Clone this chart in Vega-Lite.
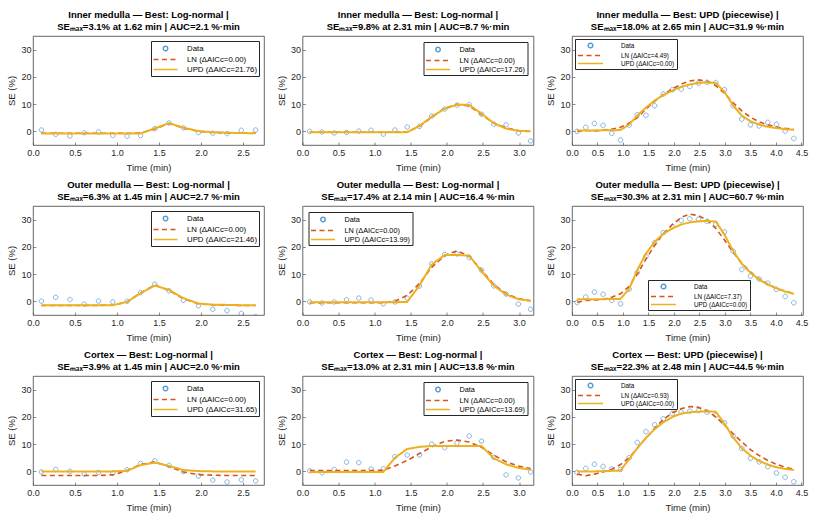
{
  "$schema": "https://vega.github.io/schema/vega-lite/v6.json",
  "padding": {"left": 6, "top": 9, "right": 2, "bottom": 2},
  "background": "white",
  "datasets": {
    "p1": [
      {"t":0.1,"Data":0.5,"LN":-0.7,"UPD":-0.8},
      {"t":0.27,"Data":-1.1,"LN":-0.7,"UPD":-0.8},
      {"t":0.44,"Data":-1.7,"LN":-0.7,"UPD":-0.8},
      {"t":0.61,"Data":-0.5,"LN":-0.7,"UPD":-0.8},
      {"t":0.78,"Data":-0.2,"LN":-0.7,"UPD":-0.8},
      {"t":0.95,"Data":-1.5,"LN":-0.7,"UPD":-0.8},
      {"t":1.12,"Data":-1.8,"LN":-0.7,"UPD":-0.8},
      {"t":1.28,"Data":-1.5,"LN":-0.6,"UPD":-0.8},
      {"t":1.45,"Data":1.0,"LN":0.9,"UPD":1.1},
      {"t":1.62,"Data":3.1,"LN":2.9,"UPD":3.0},
      {"t":1.79,"Data":1.3,"LN":1.2,"UPD":1.4},
      {"t":1.97,"Data":-0.4,"LN":0.0,"UPD":0.1},
      {"t":2.14,"Data":-0.7,"LN":-0.4,"UPD":-0.3},
      {"t":2.31,"Data":-0.8,"LN":-0.6,"UPD":-0.5},
      {"t":2.48,"Data":0.4,"LN":-0.7,"UPD":-0.6},
      {"t":2.65,"Data":0.5,"LN":-0.7,"UPD":-0.7}
    ],
    "p2": [
      {"t":0.1,"Data":0.0,"LN":-0.3,"UPD":-0.3},
      {"t":0.27,"Data":-0.2,"LN":-0.3,"UPD":-0.3},
      {"t":0.44,"Data":-0.6,"LN":-0.3,"UPD":-0.3},
      {"t":0.61,"Data":-0.4,"LN":-0.3,"UPD":-0.3},
      {"t":0.78,"Data":0.1,"LN":-0.3,"UPD":-0.3},
      {"t":0.95,"Data":0.4,"LN":-0.3,"UPD":-0.3},
      {"t":1.12,"Data":-1.0,"LN":-0.3,"UPD":-0.3},
      {"t":1.28,"Data":0.5,"LN":-0.3,"UPD":-0.3},
      {"t":1.45,"Data":1.6,"LN":-0.2,"UPD":-0.3},
      {"t":1.62,"Data":1.8,"LN":1.8,"UPD":2.0},
      {"t":1.79,"Data":5.6,"LN":5.2,"UPD":5.4},
      {"t":1.97,"Data":8.2,"LN":8.5,"UPD":8.3},
      {"t":2.14,"Data":9.6,"LN":9.9,"UPD":9.8},
      {"t":2.31,"Data":9.8,"LN":9.3,"UPD":9.7},
      {"t":2.48,"Data":6.3,"LN":6.2,"UPD":6.5},
      {"t":2.65,"Data":2.6,"LN":3.0,"UPD":3.0},
      {"t":2.82,"Data":2.4,"LN":1.3,"UPD":1.0},
      {"t":2.99,"Data":-0.6,"LN":0.3,"UPD":0.2},
      {"t":3.16,"Data":-3.5,"LN":0.0,"UPD":0.0}
    ],
    "p3": [
      {"t":0.1,"Data":0.0,"LN":0.0,"UPD":0.3},
      {"t":0.27,"Data":1.5,"LN":0.3,"UPD":0.3},
      {"t":0.44,"Data":2.9,"LN":0.2,"UPD":0.3},
      {"t":0.61,"Data":2.2,"LN":0.5,"UPD":0.4},
      {"t":0.78,"Data":-0.7,"LN":0.8,"UPD":0.4},
      {"t":0.95,"Data":-3.2,"LN":1.5,"UPD":0.5},
      {"t":1.12,"Data":2.3,"LN":3.0,"UPD":2.5},
      {"t":1.28,"Data":6.1,"LN":5.0,"UPD":5.8},
      {"t":1.45,"Data":5.9,"LN":8.2,"UPD":8.7},
      {"t":1.62,"Data":9.4,"LN":11.0,"UPD":11.3},
      {"t":1.79,"Data":13.7,"LN":13.5,"UPD":13.3},
      {"t":1.97,"Data":15.3,"LN":15.6,"UPD":15.0},
      {"t":2.14,"Data":15.5,"LN":17.3,"UPD":16.3},
      {"t":2.31,"Data":16.5,"LN":18.5,"UPD":17.2},
      {"t":2.48,"Data":17.7,"LN":18.9,"UPD":17.8},
      {"t":2.65,"Data":18.0,"LN":18.4,"UPD":18.0},
      {"t":2.82,"Data":17.9,"LN":16.8,"UPD":17.8},
      {"t":2.99,"Data":15.3,"LN":14.0,"UPD":14.5},
      {"t":3.16,"Data":9.4,"LN":10.5,"UPD":9.5},
      {"t":3.33,"Data":4.5,"LN":7.5,"UPD":5.8},
      {"t":3.5,"Data":2.4,"LN":5.2,"UPD":3.7},
      {"t":3.67,"Data":2.0,"LN":3.5,"UPD":2.5},
      {"t":3.84,"Data":3.3,"LN":2.4,"UPD":1.7},
      {"t":4.01,"Data":2.6,"LN":1.6,"UPD":1.2},
      {"t":4.18,"Data":0.1,"LN":1.1,"UPD":0.8},
      {"t":4.35,"Data":-2.6,"LN":0.7,"UPD":0.6}
    ],
    "p4": [
      {"t":0.1,"Data":0.1,"LN":-1.5,"UPD":-1.4},
      {"t":0.27,"Data":1.5,"LN":-1.5,"UPD":-1.4},
      {"t":0.44,"Data":0.7,"LN":-1.5,"UPD":-1.4},
      {"t":0.61,"Data":-1.0,"LN":-1.5,"UPD":-1.4},
      {"t":0.78,"Data":0.1,"LN":-1.5,"UPD":-1.4},
      {"t":0.95,"Data":-0.2,"LN":-1.4,"UPD":-1.4},
      {"t":1.12,"Data":0.0,"LN":-0.2,"UPD":-0.2},
      {"t":1.28,"Data":3.2,"LN":3.1,"UPD":3.0},
      {"t":1.45,"Data":6.3,"LN":6.0,"UPD":5.8},
      {"t":1.62,"Data":3.9,"LN":4.0,"UPD":4.2},
      {"t":1.79,"Data":0.4,"LN":1.0,"UPD":1.2},
      {"t":1.97,"Data":-1.6,"LN":-0.9,"UPD":-0.8},
      {"t":2.14,"Data":-2.9,"LN":-1.3,"UPD":-1.2},
      {"t":2.31,"Data":-3.4,"LN":-1.4,"UPD":-1.3},
      {"t":2.48,"Data":-4.4,"LN":-1.5,"UPD":-1.4},
      {"t":2.65,"Data":-5.6,"LN":-1.5,"UPD":-1.4}
    ],
    "p5": [
      {"t":0.1,"Data":-0.2,"LN":-0.5,"UPD":-0.3},
      {"t":0.27,"Data":-0.6,"LN":-0.5,"UPD":-0.3},
      {"t":0.44,"Data":-0.2,"LN":-0.5,"UPD":-0.3},
      {"t":0.61,"Data":0.6,"LN":-0.5,"UPD":-0.3},
      {"t":0.78,"Data":1.2,"LN":-0.5,"UPD":-0.3},
      {"t":0.95,"Data":0.5,"LN":-0.5,"UPD":-0.3},
      {"t":1.12,"Data":-0.9,"LN":-0.5,"UPD":-0.3},
      {"t":1.28,"Data":-0.2,"LN":0.0,"UPD":-0.3},
      {"t":1.45,"Data":1.2,"LN":2.2,"UPD":-0.2},
      {"t":1.62,"Data":5.6,"LN":6.5,"UPD":5.8},
      {"t":1.79,"Data":13.8,"LN":12.5,"UPD":13.5},
      {"t":1.97,"Data":17.2,"LN":16.8,"UPD":17.0},
      {"t":2.14,"Data":17.4,"LN":18.6,"UPD":17.0},
      {"t":2.31,"Data":16.1,"LN":16.5,"UPD":16.8},
      {"t":2.48,"Data":11.5,"LN":11.5,"UPD":11.0},
      {"t":2.65,"Data":5.7,"LN":6.2,"UPD":5.8},
      {"t":2.82,"Data":2.7,"LN":2.8,"UPD":2.5},
      {"t":2.99,"Data":-1.0,"LN":1.0,"UPD":0.8},
      {"t":3.16,"Data":-2.9,"LN":0.2,"UPD":0.2}
    ],
    "p6": [
      {"t":0.1,"Data":-0.4,"LN":-0.3,"UPD":0.8},
      {"t":0.27,"Data":1.6,"LN":0.3,"UPD":0.8},
      {"t":0.44,"Data":3.4,"LN":0.5,"UPD":0.8},
      {"t":0.61,"Data":2.6,"LN":0.8,"UPD":0.8},
      {"t":0.78,"Data":0.4,"LN":1.5,"UPD":0.9},
      {"t":0.95,"Data":-0.9,"LN":2.8,"UPD":0.9},
      {"t":1.12,"Data":4.5,"LN":5.5,"UPD":4.5},
      {"t":1.28,"Data":10.6,"LN":10.0,"UPD":11.5},
      {"t":1.45,"Data":16.5,"LN":15.5,"UPD":17.5},
      {"t":1.62,"Data":21.5,"LN":20.5,"UPD":21.8},
      {"t":1.79,"Data":25.2,"LN":24.8,"UPD":24.8},
      {"t":1.97,"Data":27.5,"LN":28.2,"UPD":26.8},
      {"t":2.14,"Data":29.7,"LN":30.8,"UPD":28.2},
      {"t":2.31,"Data":30.3,"LN":32.0,"UPD":29.0},
      {"t":2.48,"Data":30.1,"LN":31.5,"UPD":29.4},
      {"t":2.65,"Data":29.4,"LN":29.8,"UPD":29.5},
      {"t":2.82,"Data":28.3,"LN":26.8,"UPD":29.3},
      {"t":2.99,"Data":25.5,"LN":22.5,"UPD":24.5},
      {"t":3.16,"Data":18.4,"LN":18.0,"UPD":18.5},
      {"t":3.33,"Data":11.7,"LN":14.0,"UPD":13.8},
      {"t":3.5,"Data":9.3,"LN":10.8,"UPD":10.5},
      {"t":3.67,"Data":8.2,"LN":8.2,"UPD":8.0},
      {"t":3.84,"Data":6.7,"LN":6.3,"UPD":6.2},
      {"t":4.01,"Data":4.4,"LN":4.8,"UPD":4.8},
      {"t":4.18,"Data":1.8,"LN":3.7,"UPD":3.6},
      {"t":4.35,"Data":-0.5,"LN":2.9,"UPD":2.8}
    ],
    "p7": [
      {"t":0.1,"Data":-0.2,"LN":-1.5,"UPD":0.0},
      {"t":0.27,"Data":0.7,"LN":-1.5,"UPD":0.0},
      {"t":0.44,"Data":0.0,"LN":-1.5,"UPD":0.0},
      {"t":0.61,"Data":-1.0,"LN":-1.5,"UPD":0.0},
      {"t":0.78,"Data":-0.4,"LN":-1.5,"UPD":0.0},
      {"t":0.95,"Data":-0.5,"LN":-1.3,"UPD":0.0},
      {"t":1.12,"Data":0.6,"LN":0.3,"UPD":0.2},
      {"t":1.28,"Data":2.9,"LN":2.5,"UPD":2.3},
      {"t":1.45,"Data":3.9,"LN":3.5,"UPD":3.2},
      {"t":1.62,"Data":2.2,"LN":1.8,"UPD":2.0},
      {"t":1.79,"Data":-0.1,"LN":-0.2,"UPD":0.5},
      {"t":1.97,"Data":-1.7,"LN":-1.2,"UPD":0.1},
      {"t":2.14,"Data":-3.2,"LN":-1.4,"UPD":0.0},
      {"t":2.31,"Data":-3.9,"LN":-1.5,"UPD":0.0},
      {"t":2.48,"Data":-3.1,"LN":-1.5,"UPD":0.0},
      {"t":2.65,"Data":-3.5,"LN":-1.5,"UPD":0.0}
    ],
    "p8": [
      {"t":0.1,"Data":0.2,"LN":0.3,"UPD":-0.2},
      {"t":0.27,"Data":-0.5,"LN":0.3,"UPD":-0.2},
      {"t":0.44,"Data":0.7,"LN":0.3,"UPD":-0.2},
      {"t":0.61,"Data":3.4,"LN":0.3,"UPD":-0.2},
      {"t":0.78,"Data":3.2,"LN":0.3,"UPD":-0.2},
      {"t":0.95,"Data":0.9,"LN":0.3,"UPD":-0.2},
      {"t":1.12,"Data":1.0,"LN":0.4,"UPD":-0.2},
      {"t":1.28,"Data":5.4,"LN":2.0,"UPD":5.0},
      {"t":1.45,"Data":6.0,"LN":4.0,"UPD":8.2},
      {"t":1.62,"Data":6.0,"LN":6.5,"UPD":9.0},
      {"t":1.79,"Data":10.0,"LN":9.0,"UPD":9.3},
      {"t":1.97,"Data":8.7,"LN":11.0,"UPD":9.3},
      {"t":2.14,"Data":10.4,"LN":11.5,"UPD":9.3},
      {"t":2.31,"Data":13.0,"LN":10.8,"UPD":9.3},
      {"t":2.48,"Data":11.1,"LN":8.8,"UPD":9.3},
      {"t":2.65,"Data":5.1,"LN":6.0,"UPD":4.8},
      {"t":2.82,"Data":-1.3,"LN":3.5,"UPD":2.6},
      {"t":2.99,"Data":-2.4,"LN":2.0,"UPD":1.3},
      {"t":3.16,"Data":-0.2,"LN":1.0,"UPD":0.6}
    ],
    "p9": [
      {"t":0.1,"Data":-0.4,"LN":-1.0,"UPD":-0.1},
      {"t":0.27,"Data":1.1,"LN":-1.6,"UPD":0.0},
      {"t":0.44,"Data":2.6,"LN":-1.0,"UPD":0.0},
      {"t":0.61,"Data":1.8,"LN":-0.2,"UPD":0.1},
      {"t":0.78,"Data":0.9,"LN":0.8,"UPD":0.2},
      {"t":0.95,"Data":0.7,"LN":2.5,"UPD":0.3},
      {"t":1.12,"Data":5.0,"LN":5.0,"UPD":4.5},
      {"t":1.28,"Data":10.6,"LN":8.5,"UPD":8.5},
      {"t":1.45,"Data":14.6,"LN":12.2,"UPD":12.3},
      {"t":1.62,"Data":17.1,"LN":15.8,"UPD":15.5},
      {"t":1.79,"Data":19.3,"LN":19.0,"UPD":18.0},
      {"t":1.97,"Data":21.3,"LN":21.5,"UPD":20.0},
      {"t":2.14,"Data":21.8,"LN":23.0,"UPD":21.2},
      {"t":2.31,"Data":22.1,"LN":23.8,"UPD":21.7},
      {"t":2.48,"Data":22.3,"LN":23.5,"UPD":21.9},
      {"t":2.65,"Data":21.7,"LN":22.2,"UPD":22.0},
      {"t":2.82,"Data":20.6,"LN":20.0,"UPD":21.9},
      {"t":2.99,"Data":17.8,"LN":17.0,"UPD":17.5},
      {"t":3.16,"Data":13.0,"LN":13.8,"UPD":12.5},
      {"t":3.33,"Data":8.4,"LN":10.8,"UPD":8.5},
      {"t":3.5,"Data":4.8,"LN":8.0,"UPD":5.8},
      {"t":3.67,"Data":3.5,"LN":5.8,"UPD":3.8},
      {"t":3.84,"Data":1.7,"LN":4.0,"UPD":2.5},
      {"t":4.01,"Data":-0.6,"LN":2.6,"UPD":1.5},
      {"t":4.18,"Data":-2.2,"LN":1.5,"UPD":0.9},
      {"t":4.35,"Data":-3.8,"LN":0.8,"UPD":0.5}
    ]
  },
  "columns": 3,
  "spacing": {"row": 7, "column": 10.5},
  "resolve": {
    "scale": {"color": "independent", "shape": "independent", "strokeDash": "independent", "x": "independent", "y": "independent"},
    "legend": {"color": "independent", "shape": "independent", "strokeDash": "independent"}
  },
  "concat": [
    {
      "title": {"text": ["Inner medulla — Best: Log-normal |", "SEₘₐₓ=3.1% at 1.62 min | AUC=2.1 %·min"]},
      "width": 231, "height": 109,
      "data": {"name": "p1"},
      "transform": [{"fold": ["Data", "LN", "UPD"], "as": ["kind", "se"]}],
      "encoding": {
        "x": {"field": "t", "type": "quantitative", "title": "Time (min)", "scale": {"domain": [0, 2.75], "nice": false, "zero": false}, "axis": {"values": [0, 0.5, 1, 1.5, 2, 2.5]}},
        "y": {"field": "se", "type": "quantitative", "title": "SE (%)", "scale": {"domain": [-5, 35], "nice": false}, "axis": {"values": [0, 10, 20, 30]}},
        "color": {"field": "kind", "type": "nominal", "scale": {"domain": ["Data", "LN", "UPD"], "range": ["#5b9bd5", "#D95319", "#EDB120"]},
          "legend": {"title": null, "orient": "top-right", "offset": 5, "labelFontSize": 7.8, "symbolSize": 81, "symbolOffset": 7, "labelOffset": 16, "labelExpr": "datum.value === 'LN' ? 'LN (ΔAICc=0.00)' : datum.value === 'UPD' ? 'UPD (ΔAICc=21.76)' : 'Data'"}},
        "strokeDash": {"field": "kind", "type": "nominal", "scale": {"domain": ["Data", "LN", "UPD"], "range": [[1, 0], [5, 3.5], [1, 0]]},
          "legend": {"title": null, "orient": "top-right", "offset": 5, "labelFontSize": 7.8, "symbolSize": 81, "symbolOffset": 7, "labelOffset": 16, "labelExpr": "datum.value === 'LN' ? 'LN (ΔAICc=0.00)' : datum.value === 'UPD' ? 'UPD (ΔAICc=21.76)' : 'Data'"}}
      },
      "layer": [
        {"transform": [{"filter": "datum.kind === 'Data'"}], "mark": {"type": "point", "filled": false, "size": 81, "strokeWidth": 0.75, "opacity": 1, "clip": true},
          "encoding": {"shape": {"field": "kind", "type": "nominal", "scale": {"domain": ["Data", "LN", "UPD"], "range": ["M-0.5,0A0.5,0.5,0,1,0,0.5,0A0.5,0.5,0,1,0,-0.5,0Z", "M-2.67,0H2.67", "M-2.67,0H2.67"]},
            "legend": {"title": null, "orient": "top-right", "offset": 5, "labelFontSize": 7.8, "symbolSize": 81, "symbolOffset": 7, "labelOffset": 16, "labelExpr": "datum.value === 'LN' ? 'LN (ΔAICc=0.00)' : datum.value === 'UPD' ? 'UPD (ΔAICc=21.76)' : 'Data'"}}}},
        {"transform": [{"filter": "datum.kind === 'LN'"}], "mark": {"type": "line", "strokeWidth": 1.6, "clip": true}},
        {"transform": [{"filter": "datum.kind === 'UPD'"}], "mark": {"type": "line", "strokeWidth": 2, "clip": true}}
      ]
    },
    {
      "title": {"text": ["Inner medulla — Best: Log-normal |", "SEₘₐₓ=9.8% at 2.31 min | AUC=8.7 %·min"]},
      "width": 231, "height": 109,
      "data": {"name": "p2"},
      "transform": [{"fold": ["Data", "LN", "UPD"], "as": ["kind", "se"]}],
      "encoding": {
        "x": {"field": "t", "type": "quantitative", "title": "Time (min)", "scale": {"domain": [0, 3.2], "nice": false, "zero": false}, "axis": {"values": [0, 0.5, 1, 1.5, 2, 2.5, 3]}},
        "y": {"field": "se", "type": "quantitative", "title": "SE (%)", "scale": {"domain": [-5, 35], "nice": false}, "axis": {"values": [0, 10, 20, 30]}},
        "color": {"field": "kind", "type": "nominal", "scale": {"domain": ["Data", "LN", "UPD"], "range": ["#5b9bd5", "#D95319", "#EDB120"]},
          "legend": {"title": null, "orient": "top-right", "offset": 6, "labelFontSize": 7.3, "symbolSize": 81, "symbolOffset": 7, "labelOffset": 16, "labelExpr": "datum.value === 'LN' ? 'LN (ΔAICc=0.00)' : datum.value === 'UPD' ? 'UPD (ΔAICc=17.26)' : 'Data'"}},
        "strokeDash": {"field": "kind", "type": "nominal", "scale": {"domain": ["Data", "LN", "UPD"], "range": [[1, 0], [5, 3.5], [1, 0]]},
          "legend": {"title": null, "orient": "top-right", "offset": 6, "labelFontSize": 7.3, "symbolSize": 81, "symbolOffset": 7, "labelOffset": 16, "labelExpr": "datum.value === 'LN' ? 'LN (ΔAICc=0.00)' : datum.value === 'UPD' ? 'UPD (ΔAICc=17.26)' : 'Data'"}}
      },
      "layer": [
        {"transform": [{"filter": "datum.kind === 'Data'"}], "mark": {"type": "point", "filled": false, "size": 81, "strokeWidth": 0.75, "opacity": 1, "clip": true},
          "encoding": {"shape": {"field": "kind", "type": "nominal", "scale": {"domain": ["Data", "LN", "UPD"], "range": ["M-0.5,0A0.5,0.5,0,1,0,0.5,0A0.5,0.5,0,1,0,-0.5,0Z", "M-2.67,0H2.67", "M-2.67,0H2.67"]},
            "legend": {"title": null, "orient": "top-right", "offset": 6, "labelFontSize": 7.3, "symbolSize": 81, "symbolOffset": 7, "labelOffset": 16, "labelExpr": "datum.value === 'LN' ? 'LN (ΔAICc=0.00)' : datum.value === 'UPD' ? 'UPD (ΔAICc=17.26)' : 'Data'"}}}},
        {"transform": [{"filter": "datum.kind === 'LN'"}], "mark": {"type": "line", "strokeWidth": 1.6, "clip": true}},
        {"transform": [{"filter": "datum.kind === 'UPD'"}], "mark": {"type": "line", "strokeWidth": 2, "clip": true}}
      ]
    },
    {
      "title": {"text": ["Inner medulla — Best: UPD (piecewise) |", "SEₘₐₓ=18.0% at 2.65 min | AUC=31.9 %·min"]},
      "width": 231, "height": 109,
      "data": {"name": "p3"},
      "transform": [{"fold": ["Data", "LN", "UPD"], "as": ["kind", "se"]}],
      "encoding": {
        "x": {"field": "t", "type": "quantitative", "title": "Time (min)", "scale": {"domain": [0, 4.53], "nice": false, "zero": false}, "axis": {"values": [0, 0.5, 1, 1.5, 2, 2.5, 3, 3.5, 4, 4.5]}},
        "y": {"field": "se", "type": "quantitative", "title": "SE (%)", "scale": {"domain": [-5, 35], "nice": false}, "axis": {"values": [0, 10, 20, 30]}},
        "color": {"field": "kind", "type": "nominal", "scale": {"domain": ["Data", "LN", "UPD"], "range": ["#5b9bd5", "#D95319", "#EDB120"]},
          "legend": {"title": null, "orient": "top-left", "offset": 3, "labelFontSize": 6.3, "symbolSize": 49, "symbolOffset": 9, "labelOffset": 26, "labelExpr": "datum.value === 'LN' ? 'LN (ΔAICc=4.49)' : datum.value === 'UPD' ? 'UPD (ΔAICc=0.00)' : 'Data'"}},
        "strokeDash": {"field": "kind", "type": "nominal", "scale": {"domain": ["Data", "LN", "UPD"], "range": [[1, 0], [5, 3.5], [1, 0]]},
          "legend": {"title": null, "orient": "top-left", "offset": 3, "labelFontSize": 6.3, "symbolSize": 49, "symbolOffset": 9, "labelOffset": 26, "labelExpr": "datum.value === 'LN' ? 'LN (ΔAICc=4.49)' : datum.value === 'UPD' ? 'UPD (ΔAICc=0.00)' : 'Data'"}}
      },
      "layer": [
        {"transform": [{"filter": "datum.kind === 'Data'"}], "mark": {"type": "point", "filled": false, "size": 49, "strokeWidth": 0.75, "opacity": 1, "clip": true},
          "encoding": {"shape": {"field": "kind", "type": "nominal", "scale": {"domain": ["Data", "LN", "UPD"], "range": ["M-0.66,0A0.66,0.66,0,1,0,0.66,0A0.66,0.66,0,1,0,-0.66,0Z", "M-3.57,0H3.57", "M-3.57,0H3.57"]},
            "legend": {"title": null, "orient": "top-left", "offset": 3, "labelFontSize": 6.3, "symbolSize": 49, "symbolOffset": 9, "labelOffset": 26, "labelExpr": "datum.value === 'LN' ? 'LN (ΔAICc=4.49)' : datum.value === 'UPD' ? 'UPD (ΔAICc=0.00)' : 'Data'"}}}},
        {"transform": [{"filter": "datum.kind === 'LN'"}], "mark": {"type": "line", "strokeWidth": 1.6, "clip": true}},
        {"transform": [{"filter": "datum.kind === 'UPD'"}], "mark": {"type": "line", "strokeWidth": 2, "clip": true}}
      ]
    },
    {
      "title": {"text": ["Outer medulla — Best: Log-normal |", "SEₘₐₓ=6.3% at 1.45 min | AUC=2.7 %·min"]},
      "width": 231, "height": 109,
      "data": {"name": "p4"},
      "transform": [{"fold": ["Data", "LN", "UPD"], "as": ["kind", "se"]}],
      "encoding": {
        "x": {"field": "t", "type": "quantitative", "title": "Time (min)", "scale": {"domain": [0, 2.75], "nice": false, "zero": false}, "axis": {"values": [0, 0.5, 1, 1.5, 2, 2.5]}},
        "y": {"field": "se", "type": "quantitative", "title": "SE (%)", "scale": {"domain": [-5, 35], "nice": false}, "axis": {"values": [0, 10, 20, 30]}},
        "color": {"field": "kind", "type": "nominal", "scale": {"domain": ["Data", "LN", "UPD"], "range": ["#5b9bd5", "#D95319", "#EDB120"]},
          "legend": {"title": null, "orient": "top-right", "offset": 5, "labelFontSize": 7.8, "symbolSize": 81, "symbolOffset": 7, "labelOffset": 16, "labelExpr": "datum.value === 'LN' ? 'LN (ΔAICc=0.00)' : datum.value === 'UPD' ? 'UPD (ΔAICc=21.46)' : 'Data'"}},
        "strokeDash": {"field": "kind", "type": "nominal", "scale": {"domain": ["Data", "LN", "UPD"], "range": [[1, 0], [5, 3.5], [1, 0]]},
          "legend": {"title": null, "orient": "top-right", "offset": 5, "labelFontSize": 7.8, "symbolSize": 81, "symbolOffset": 7, "labelOffset": 16, "labelExpr": "datum.value === 'LN' ? 'LN (ΔAICc=0.00)' : datum.value === 'UPD' ? 'UPD (ΔAICc=21.46)' : 'Data'"}}
      },
      "layer": [
        {"transform": [{"filter": "datum.kind === 'Data'"}], "mark": {"type": "point", "filled": false, "size": 81, "strokeWidth": 0.75, "opacity": 1, "clip": true},
          "encoding": {"shape": {"field": "kind", "type": "nominal", "scale": {"domain": ["Data", "LN", "UPD"], "range": ["M-0.5,0A0.5,0.5,0,1,0,0.5,0A0.5,0.5,0,1,0,-0.5,0Z", "M-2.67,0H2.67", "M-2.67,0H2.67"]},
            "legend": {"title": null, "orient": "top-right", "offset": 5, "labelFontSize": 7.8, "symbolSize": 81, "symbolOffset": 7, "labelOffset": 16, "labelExpr": "datum.value === 'LN' ? 'LN (ΔAICc=0.00)' : datum.value === 'UPD' ? 'UPD (ΔAICc=21.46)' : 'Data'"}}}},
        {"transform": [{"filter": "datum.kind === 'LN'"}], "mark": {"type": "line", "strokeWidth": 1.6, "clip": true}},
        {"transform": [{"filter": "datum.kind === 'UPD'"}], "mark": {"type": "line", "strokeWidth": 2, "clip": true}}
      ]
    },
    {
      "title": {"text": ["Outer medulla — Best: Log-normal |", "SEₘₐₓ=17.4% at 2.14 min | AUC=16.4 %·min"]},
      "width": 231, "height": 109,
      "data": {"name": "p5"},
      "transform": [{"fold": ["Data", "LN", "UPD"], "as": ["kind", "se"]}],
      "encoding": {
        "x": {"field": "t", "type": "quantitative", "title": "Time (min)", "scale": {"domain": [0, 3.2], "nice": false, "zero": false}, "axis": {"values": [0, 0.5, 1, 1.5, 2, 2.5, 3]}},
        "y": {"field": "se", "type": "quantitative", "title": "SE (%)", "scale": {"domain": [-5, 35], "nice": false}, "axis": {"values": [0, 10, 20, 30]}},
        "color": {"field": "kind", "type": "nominal", "scale": {"domain": ["Data", "LN", "UPD"], "range": ["#5b9bd5", "#D95319", "#EDB120"]},
          "legend": {"title": null, "orient": "top-left", "offset": 6, "labelFontSize": 7.3, "symbolSize": 81, "symbolOffset": 7, "labelOffset": 16, "labelExpr": "datum.value === 'LN' ? 'LN (ΔAICc=0.00)' : datum.value === 'UPD' ? 'UPD (ΔAICc=13.99)' : 'Data'"}},
        "strokeDash": {"field": "kind", "type": "nominal", "scale": {"domain": ["Data", "LN", "UPD"], "range": [[1, 0], [5, 3.5], [1, 0]]},
          "legend": {"title": null, "orient": "top-left", "offset": 6, "labelFontSize": 7.3, "symbolSize": 81, "symbolOffset": 7, "labelOffset": 16, "labelExpr": "datum.value === 'LN' ? 'LN (ΔAICc=0.00)' : datum.value === 'UPD' ? 'UPD (ΔAICc=13.99)' : 'Data'"}}
      },
      "layer": [
        {"transform": [{"filter": "datum.kind === 'Data'"}], "mark": {"type": "point", "filled": false, "size": 81, "strokeWidth": 0.75, "opacity": 1, "clip": true},
          "encoding": {"shape": {"field": "kind", "type": "nominal", "scale": {"domain": ["Data", "LN", "UPD"], "range": ["M-0.5,0A0.5,0.5,0,1,0,0.5,0A0.5,0.5,0,1,0,-0.5,0Z", "M-2.67,0H2.67", "M-2.67,0H2.67"]},
            "legend": {"title": null, "orient": "top-left", "offset": 6, "labelFontSize": 7.3, "symbolSize": 81, "symbolOffset": 7, "labelOffset": 16, "labelExpr": "datum.value === 'LN' ? 'LN (ΔAICc=0.00)' : datum.value === 'UPD' ? 'UPD (ΔAICc=13.99)' : 'Data'"}}}},
        {"transform": [{"filter": "datum.kind === 'LN'"}], "mark": {"type": "line", "strokeWidth": 1.6, "clip": true}},
        {"transform": [{"filter": "datum.kind === 'UPD'"}], "mark": {"type": "line", "strokeWidth": 2, "clip": true}}
      ]
    },
    {
      "title": {"text": ["Outer medulla — Best: UPD (piecewise) |", "SEₘₐₓ=30.3% at 2.31 min | AUC=60.7 %·min"]},
      "width": 231, "height": 109,
      "data": {"name": "p6"},
      "transform": [{"fold": ["Data", "LN", "UPD"], "as": ["kind", "se"]}],
      "encoding": {
        "x": {"field": "t", "type": "quantitative", "title": "Time (min)", "scale": {"domain": [0, 4.53], "nice": false, "zero": false}, "axis": {"values": [0, 0.5, 1, 1.5, 2, 2.5, 3, 3.5, 4, 4.5]}},
        "y": {"field": "se", "type": "quantitative", "title": "SE (%)", "scale": {"domain": [-5, 35], "nice": false}, "axis": {"values": [0, 10, 20, 30]}},
        "color": {"field": "kind", "type": "nominal", "scale": {"domain": ["Data", "LN", "UPD"], "range": ["#5b9bd5", "#D95319", "#EDB120"]},
          "legend": {"title": null, "orient": "none", "legendX": 76, "legendY": 74, "labelFontSize": 6.3, "symbolSize": 49, "symbolOffset": 9, "labelOffset": 26, "labelExpr": "datum.value === 'LN' ? 'LN (ΔAICc=7.37)' : datum.value === 'UPD' ? 'UPD (ΔAICc=0.00)' : 'Data'"}},
        "strokeDash": {"field": "kind", "type": "nominal", "scale": {"domain": ["Data", "LN", "UPD"], "range": [[1, 0], [5, 3.5], [1, 0]]},
          "legend": {"title": null, "orient": "none", "legendX": 76, "legendY": 74, "labelFontSize": 6.3, "symbolSize": 49, "symbolOffset": 9, "labelOffset": 26, "labelExpr": "datum.value === 'LN' ? 'LN (ΔAICc=7.37)' : datum.value === 'UPD' ? 'UPD (ΔAICc=0.00)' : 'Data'"}}
      },
      "layer": [
        {"transform": [{"filter": "datum.kind === 'Data'"}], "mark": {"type": "point", "filled": false, "size": 49, "strokeWidth": 0.75, "opacity": 1, "clip": true},
          "encoding": {"shape": {"field": "kind", "type": "nominal", "scale": {"domain": ["Data", "LN", "UPD"], "range": ["M-0.66,0A0.66,0.66,0,1,0,0.66,0A0.66,0.66,0,1,0,-0.66,0Z", "M-3.57,0H3.57", "M-3.57,0H3.57"]},
            "legend": {"title": null, "orient": "none", "legendX": 76, "legendY": 74, "labelFontSize": 6.3, "symbolSize": 49, "symbolOffset": 9, "labelOffset": 26, "labelExpr": "datum.value === 'LN' ? 'LN (ΔAICc=7.37)' : datum.value === 'UPD' ? 'UPD (ΔAICc=0.00)' : 'Data'"}}}},
        {"transform": [{"filter": "datum.kind === 'LN'"}], "mark": {"type": "line", "strokeWidth": 1.6, "clip": true}},
        {"transform": [{"filter": "datum.kind === 'UPD'"}], "mark": {"type": "line", "strokeWidth": 2, "clip": true}}
      ]
    },
    {
      "title": {"text": ["Cortex — Best: Log-normal |", "SEₘₐₓ=3.9% at 1.45 min | AUC=2.0 %·min"]},
      "width": 231, "height": 109,
      "data": {"name": "p7"},
      "transform": [{"fold": ["Data", "LN", "UPD"], "as": ["kind", "se"]}],
      "encoding": {
        "x": {"field": "t", "type": "quantitative", "title": "Time (min)", "scale": {"domain": [0, 2.75], "nice": false, "zero": false}, "axis": {"values": [0, 0.5, 1, 1.5, 2, 2.5]}},
        "y": {"field": "se", "type": "quantitative", "title": "SE (%)", "scale": {"domain": [-5, 35], "nice": false}, "axis": {"values": [0, 10, 20, 30]}},
        "color": {"field": "kind", "type": "nominal", "scale": {"domain": ["Data", "LN", "UPD"], "range": ["#5b9bd5", "#D95319", "#EDB120"]},
          "legend": {"title": null, "orient": "top-right", "offset": 5, "labelFontSize": 7.8, "symbolSize": 81, "symbolOffset": 7, "labelOffset": 16, "labelExpr": "datum.value === 'LN' ? 'LN (ΔAICc=0.00)' : datum.value === 'UPD' ? 'UPD (ΔAICc=31.65)' : 'Data'"}},
        "strokeDash": {"field": "kind", "type": "nominal", "scale": {"domain": ["Data", "LN", "UPD"], "range": [[1, 0], [5, 3.5], [1, 0]]},
          "legend": {"title": null, "orient": "top-right", "offset": 5, "labelFontSize": 7.8, "symbolSize": 81, "symbolOffset": 7, "labelOffset": 16, "labelExpr": "datum.value === 'LN' ? 'LN (ΔAICc=0.00)' : datum.value === 'UPD' ? 'UPD (ΔAICc=31.65)' : 'Data'"}}
      },
      "layer": [
        {"transform": [{"filter": "datum.kind === 'Data'"}], "mark": {"type": "point", "filled": false, "size": 81, "strokeWidth": 0.75, "opacity": 1, "clip": true},
          "encoding": {"shape": {"field": "kind", "type": "nominal", "scale": {"domain": ["Data", "LN", "UPD"], "range": ["M-0.5,0A0.5,0.5,0,1,0,0.5,0A0.5,0.5,0,1,0,-0.5,0Z", "M-2.67,0H2.67", "M-2.67,0H2.67"]},
            "legend": {"title": null, "orient": "top-right", "offset": 5, "labelFontSize": 7.8, "symbolSize": 81, "symbolOffset": 7, "labelOffset": 16, "labelExpr": "datum.value === 'LN' ? 'LN (ΔAICc=0.00)' : datum.value === 'UPD' ? 'UPD (ΔAICc=31.65)' : 'Data'"}}}},
        {"transform": [{"filter": "datum.kind === 'LN'"}], "mark": {"type": "line", "strokeWidth": 1.6, "clip": true}},
        {"transform": [{"filter": "datum.kind === 'UPD'"}], "mark": {"type": "line", "strokeWidth": 2, "clip": true}}
      ]
    },
    {
      "title": {"text": ["Cortex — Best: Log-normal |", "SEₘₐₓ=13.0% at 2.31 min | AUC=13.8 %·min"]},
      "width": 231, "height": 109,
      "data": {"name": "p8"},
      "transform": [{"fold": ["Data", "LN", "UPD"], "as": ["kind", "se"]}],
      "encoding": {
        "x": {"field": "t", "type": "quantitative", "title": "Time (min)", "scale": {"domain": [0, 3.2], "nice": false, "zero": false}, "axis": {"values": [0, 0.5, 1, 1.5, 2, 2.5, 3]}},
        "y": {"field": "se", "type": "quantitative", "title": "SE (%)", "scale": {"domain": [-5, 35], "nice": false}, "axis": {"values": [0, 10, 20, 30]}},
        "color": {"field": "kind", "type": "nominal", "scale": {"domain": ["Data", "LN", "UPD"], "range": ["#5b9bd5", "#D95319", "#EDB120"]},
          "legend": {"title": null, "orient": "top-right", "offset": 6, "labelFontSize": 7.3, "symbolSize": 81, "symbolOffset": 7, "labelOffset": 16, "labelExpr": "datum.value === 'LN' ? 'LN (ΔAICc=0.00)' : datum.value === 'UPD' ? 'UPD (ΔAICc=13.69)' : 'Data'"}},
        "strokeDash": {"field": "kind", "type": "nominal", "scale": {"domain": ["Data", "LN", "UPD"], "range": [[1, 0], [5, 3.5], [1, 0]]},
          "legend": {"title": null, "orient": "top-right", "offset": 6, "labelFontSize": 7.3, "symbolSize": 81, "symbolOffset": 7, "labelOffset": 16, "labelExpr": "datum.value === 'LN' ? 'LN (ΔAICc=0.00)' : datum.value === 'UPD' ? 'UPD (ΔAICc=13.69)' : 'Data'"}}
      },
      "layer": [
        {"transform": [{"filter": "datum.kind === 'Data'"}], "mark": {"type": "point", "filled": false, "size": 81, "strokeWidth": 0.75, "opacity": 1, "clip": true},
          "encoding": {"shape": {"field": "kind", "type": "nominal", "scale": {"domain": ["Data", "LN", "UPD"], "range": ["M-0.5,0A0.5,0.5,0,1,0,0.5,0A0.5,0.5,0,1,0,-0.5,0Z", "M-2.67,0H2.67", "M-2.67,0H2.67"]},
            "legend": {"title": null, "orient": "top-right", "offset": 6, "labelFontSize": 7.3, "symbolSize": 81, "symbolOffset": 7, "labelOffset": 16, "labelExpr": "datum.value === 'LN' ? 'LN (ΔAICc=0.00)' : datum.value === 'UPD' ? 'UPD (ΔAICc=13.69)' : 'Data'"}}}},
        {"transform": [{"filter": "datum.kind === 'LN'"}], "mark": {"type": "line", "strokeWidth": 1.6, "clip": true}},
        {"transform": [{"filter": "datum.kind === 'UPD'"}], "mark": {"type": "line", "strokeWidth": 2, "clip": true}}
      ]
    },
    {
      "title": {"text": ["Cortex — Best: UPD (piecewise) |", "SEₘₐₓ=22.3% at 2.48 min | AUC=44.5 %·min"]},
      "width": 231, "height": 109,
      "data": {"name": "p9"},
      "transform": [{"fold": ["Data", "LN", "UPD"], "as": ["kind", "se"]}],
      "encoding": {
        "x": {"field": "t", "type": "quantitative", "title": "Time (min)", "scale": {"domain": [0, 4.53], "nice": false, "zero": false}, "axis": {"values": [0, 0.5, 1, 1.5, 2, 2.5, 3, 3.5, 4, 4.5]}},
        "y": {"field": "se", "type": "quantitative", "title": "SE (%)", "scale": {"domain": [-5, 35], "nice": false}, "axis": {"values": [0, 10, 20, 30]}},
        "color": {"field": "kind", "type": "nominal", "scale": {"domain": ["Data", "LN", "UPD"], "range": ["#5b9bd5", "#D95319", "#EDB120"]},
          "legend": {"title": null, "orient": "top-left", "offset": 3, "labelFontSize": 6.3, "symbolSize": 49, "symbolOffset": 9, "labelOffset": 26, "labelExpr": "datum.value === 'LN' ? 'LN (ΔAICc=0.93)' : datum.value === 'UPD' ? 'UPD (ΔAICc=0.00)' : 'Data'"}},
        "strokeDash": {"field": "kind", "type": "nominal", "scale": {"domain": ["Data", "LN", "UPD"], "range": [[1, 0], [5, 3.5], [1, 0]]},
          "legend": {"title": null, "orient": "top-left", "offset": 3, "labelFontSize": 6.3, "symbolSize": 49, "symbolOffset": 9, "labelOffset": 26, "labelExpr": "datum.value === 'LN' ? 'LN (ΔAICc=0.93)' : datum.value === 'UPD' ? 'UPD (ΔAICc=0.00)' : 'Data'"}}
      },
      "layer": [
        {"transform": [{"filter": "datum.kind === 'Data'"}], "mark": {"type": "point", "filled": false, "size": 49, "strokeWidth": 0.75, "opacity": 1, "clip": true},
          "encoding": {"shape": {"field": "kind", "type": "nominal", "scale": {"domain": ["Data", "LN", "UPD"], "range": ["M-0.66,0A0.66,0.66,0,1,0,0.66,0A0.66,0.66,0,1,0,-0.66,0Z", "M-3.57,0H3.57", "M-3.57,0H3.57"]},
            "legend": {"title": null, "orient": "top-left", "offset": 3, "labelFontSize": 6.3, "symbolSize": 49, "symbolOffset": 9, "labelOffset": 26, "labelExpr": "datum.value === 'LN' ? 'LN (ΔAICc=0.93)' : datum.value === 'UPD' ? 'UPD (ΔAICc=0.00)' : 'Data'"}}}},
        {"transform": [{"filter": "datum.kind === 'LN'"}], "mark": {"type": "line", "strokeWidth": 1.6, "clip": true}},
        {"transform": [{"filter": "datum.kind === 'UPD'"}], "mark": {"type": "line", "strokeWidth": 2, "clip": true}}
      ]
    }
  ],
  "config": {
    "font": "Liberation Sans",
    "view": {"stroke": "#404040", "strokeWidth": 0.8},
    "title": {"font": "Liberation Sans", "fontSize": 9.5, "fontWeight": "bold", "color": "black", "lineHeight": 12, "offset": 5, "frame": "group", "anchor": "middle"},
    "axis": {
      "grid": false, "domain": false, "ticks": true, "tickSize": -3, "tickColor": "#404040", "tickWidth": 0.6,
      "labelFont": "Liberation Sans", "labelFontSize": 9, "labelColor": "#262626",
      "titleFont": "Liberation Sans", "titleFontSize": 9.5, "titleFontWeight": "normal", "titleColor": "#262626"
    },
    "axisX": {"labelPadding": 6, "titlePadding": 5, "labelFlush": false},
    "axisY": {"labelPadding": 5, "titlePadding": 4},
    "legend": {"fillColor": "white", "strokeColor": "#262626", "padding": 2, "rowPadding": 0, "cornerRadius": 0, "labelFont": "Liberation Sans", "labelColor": "black", "symbolStrokeWidth": 1.5, "labelLimit": 200}
  }
}
